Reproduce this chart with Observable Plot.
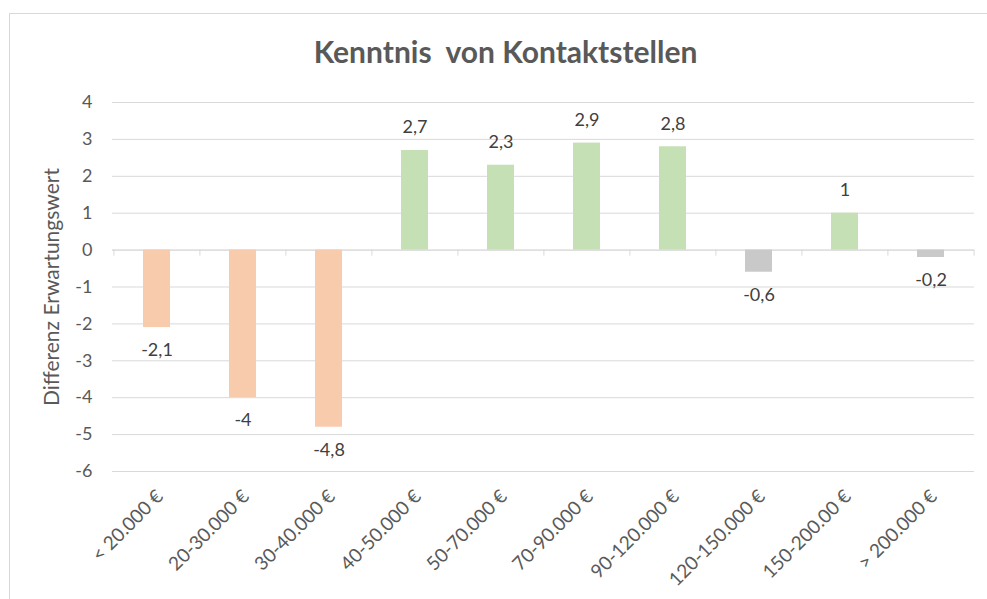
<!DOCTYPE html>
<html><head><meta charset="utf-8">
<script src="https://cdn.jsdelivr.net/npm/d3@7"></script>
<script src="https://cdn.jsdelivr.net/npm/@observablehq/plot@0.6"></script>
<style>
body{margin:0;background:#fff;font-family:Lato,sans-serif;}
#wrap{position:relative;width:987px;height:599px;overflow:hidden;}
#frame{position:absolute;left:9px;top:13px;width:990px;height:600px;border:1px solid #d9d9d9;}
#title{position:absolute;left:24px;width:963px;top:33px;text-align:center;font-size:30px;font-weight:bold;color:#595959;white-space:pre;line-height:36px;}
#chart{position:absolute;left:0;top:88px;}
</style></head><body>
<div id="wrap"><div id="frame"></div><div id="title"></div><div id="chart"></div></div>
<script>
const categories = ["< 20.000 €","20-30.000 €","30-40.000 €","40-50.000 €","50-70.000 €","70-90.000 €","90-120.000 €","120-150.000 €","150-200.00 €","> 200.000 €"];
const values = [-2.1, -4, -4.8, 2.7, 2.3, 2.9, 2.8, -0.6, 1, -0.2];
const groups = ["negativ","negativ","negativ","positiv","positiv","positiv","positiv","neutral","positiv","neutral"];
const yTicks = [-6, -5, -4, -3, -2, -1, 0, 1, 2, 3, 4];
const titleText = "Kenntnis  von Kontaktstellen";
const yLabel = "Differenz Erwartungswert";

document.getElementById("title").textContent = titleText;

const W = 987, H = 511, mL = 112, mR = 13, mT = 14, mB = 128;
const step = (W - mL - mR) / categories.length;
const data = categories.map((c, i) => ({cat: c, value: values[i], group: groups[i]}));
const fmt = v => String(v).replace(".", ",");
const grid = "#d9d9d9";

const chart = Plot.plot({
  width: W, height: H,
  marginLeft: mL, marginRight: mR, marginTop: mT, marginBottom: mB,
  style: {fontFamily: "Lato, sans-serif", fontSize: "18px", color: "#595959", background: "transparent"},
  x: {type: "band", domain: categories, paddingInner: 0.69, paddingOuter: 0.345, label: null},
  y: {domain: [-6, 4], label: null},
  color: {domain: ["negativ", "positiv", "neutral"], range: ["#F8CBAD", "#C5E0B4", "#C9C9C9"]},
  marks: [
    Plot.gridY(yTicks, {stroke: grid, strokeOpacity: 1}),
    Plot.ruleY([0], {stroke: grid, strokeOpacity: 1}),
    Plot.ruleX(categories, {x: d => d, y1: 0, y2: 0, insetBottom: -6, dx: -step / 2, stroke: grid}),
    Plot.ruleX(categories.slice(-1), {x: d => d, y1: 0, y2: 0, insetBottom: -6, dx: step / 2, stroke: grid}),
    Plot.barY(data, {x: "cat", y: "value", fill: "group"}),
    Plot.text(data.filter(d => d.value >= 0), {x: "cat", y: "value", text: d => fmt(d.value), dy: -23, fill: "#404040", fontSize: 18}),
    Plot.text(data.filter(d => d.value < 0), {x: "cat", y: "value", text: d => fmt(d.value), dy: 23, fill: "#404040", fontSize: 18}),
    Plot.axisY(yTicks, {tickSize: 0, tickPadding: 20, tickFormat: d => String(d), label: null, fontSize: 18}),
    Plot.axisX({tickRotate: -45, tickSize: 0, tickPadding: 22, dx: 3, label: null, fontSize: 19}),
    Plot.text([yLabel], {frameAnchor: "left", textAnchor: "middle", rotate: -90, dx: -60, fill: "#595959", fontSize: 21})
  ]
});
document.getElementById("chart").appendChild(chart);
</script>
</body></html>
